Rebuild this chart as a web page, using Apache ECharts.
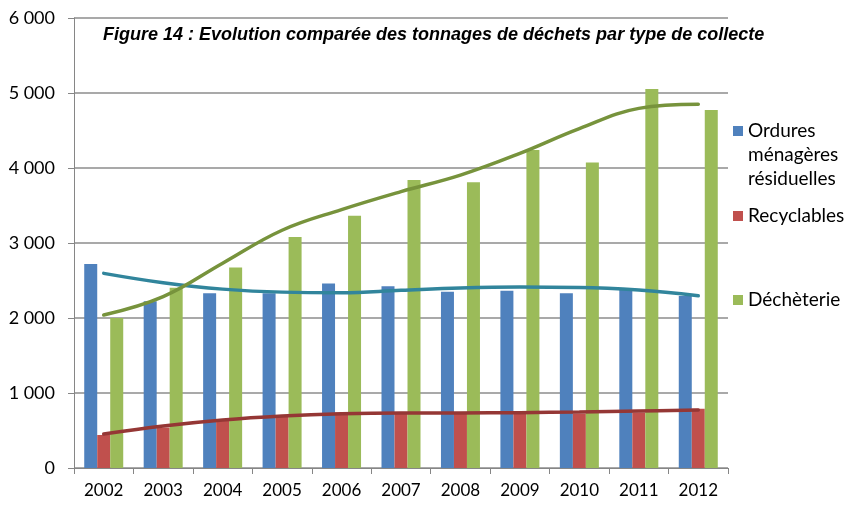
<!DOCTYPE html>
<html>
<head>
<meta charset="utf-8">
<script src="https://cdn.jsdelivr.net/npm/echarts@6/dist/echarts.min.js"></script>
<style>
  html, body { margin: 0; padding: 0; background: #fff; }
  #main { width: 845px; height: 510px; }
</style>
</head>
<body>
<div id="main"></div>
<script>
// données
var years = ['2002', '2003', '2004', '2005', '2006', '2007', '2008', '2009', '2010', '2011', '2012'];
var omr = [2720, 2225, 2330, 2330, 2460, 2425, 2350, 2365, 2330, 2375, 2295];
var recyclables = [440, 540, 650, 700, 740, 745, 730, 730, 725, 740, 790];
var decheterie = [2000, 2405, 2675, 3080, 3365, 3840, 3810, 4240, 4075, 5055, 4775];
// courbes de tendance (lues au centre de chaque année)
var trendOmr = [2595, 2470, 2385, 2345, 2338, 2370, 2400, 2412, 2408, 2373, 2297];
var trendRecy = [453, 560, 640, 693, 724, 735, 735, 738, 747, 760, 773];
var trendDech = [2040, 2285, 2730, 3170, 3445, 3685, 3905, 4195, 4525, 4795, 4850];

var names = ['Ordures ménagères résiduelles', 'Recyclables', 'Déchèterie'];
var font = 'Lato, "Liberation Sans", sans-serif';

var myChart = echarts.init(document.getElementById('main'));

// une légende par entrée pour placer chaque carré comme sur l'original
function legendFor(name, top, label) {
    return {
        data: [name],
        left: 733,
        top: top,
        padding: 0,
        itemWidth: 10,
        itemHeight: 10,
        itemGap: 0,
        icon: 'rect',
        selectedMode: false,
        formatter: function () { return label; },
        textStyle: {
            fontFamily: font,
            fontSize: 19,
            color: '#000',
            lineHeight: 24
        }
    };
}

var option = {
    animation: false,
    backgroundColor: '#fff',
    title: {
        text: 'Figure 14 : Evolution comparée des tonnages de déchets par type de collecte',
        left: 103,
        top: 26,
        padding: 0,
        textStyle: {
            fontFamily: '"Liberation Sans", sans-serif',
            fontSize: 18,
            fontStyle: 'italic',
            fontWeight: 'bold',
            color: '#000'
        }
    },
    legend: [
        // lignes vides en tête : le carré se centre sur « Ordures »
        legendFor(names[0], 131 - 60, '\n\nOrdures\nménagères\nrésiduelles'),
        legendFor(names[1], 204, 'Recyclables'),
        legendFor(names[2], 288, 'Déchèterie')
    ],
    grid: {
        left: 74,
        right: 117,
        top: 18,
        bottom: 42
    },
    xAxis: {
        type: 'category',
        data: years,
        boundaryGap: true,
        axisLine: { lineStyle: { color: '#868686', width: 1 } },
        axisTick: { show: true, length: 6, alignWithLabel: false, lineStyle: { color: '#868686' } },
        axisLabel: { fontFamily: font, fontSize: 17, color: '#000', margin: 14 }
    },
    yAxis: {
        type: 'value',
        min: 0,
        max: 6000,
        interval: 1000,
        axisLine: { show: true, lineStyle: { color: '#868686', width: 1 } },
        axisTick: { show: true, length: 6, lineStyle: { color: '#868686' } },
        splitLine: { lineStyle: { color: '#8c8c8c', width: 1.5 } },
        axisLabel: {
            fontFamily: font,
            fontSize: 18,
            color: '#000',
            margin: 19,
            formatter: function (v) {
                return String(v).replace(/\B(?=(\d{3})+(?!\d))/g, ' ');
            }
        }
    },
    series: [
        {
            name: names[0], type: 'bar', data: omr,
            barWidth: 13, barGap: '0%',
            itemStyle: { color: '#4F81BD' }
        },
        {
            name: names[1], type: 'bar', data: recyclables,
            barWidth: 13, barGap: '0%',
            itemStyle: { color: '#C0504D' }
        },
        {
            name: names[2], type: 'bar', data: decheterie,
            barWidth: 13, barGap: '0%',
            itemStyle: { color: '#9BBB59' }
        },
        {
            name: 'Tendance OMR', type: 'line', data: trendOmr, smooth: 0.4,
            showSymbol: false, z: 5,
            lineStyle: { color: '#31859C', width: 3.5, cap: 'round' }
        },
        {
            name: 'Tendance Recyclables', type: 'line', data: trendRecy, smooth: 0.4,
            showSymbol: false, z: 5,
            lineStyle: { color: '#953735', width: 3.5, cap: 'round' }
        },
        {
            name: 'Tendance Déchèterie', type: 'line', data: trendDech, smooth: 0.4,
            showSymbol: false, z: 5,
            lineStyle: { color: '#77933C', width: 3.5, cap: 'round' }
        }
    ]
};

myChart.setOption(option);
</script>
</body>
</html>
